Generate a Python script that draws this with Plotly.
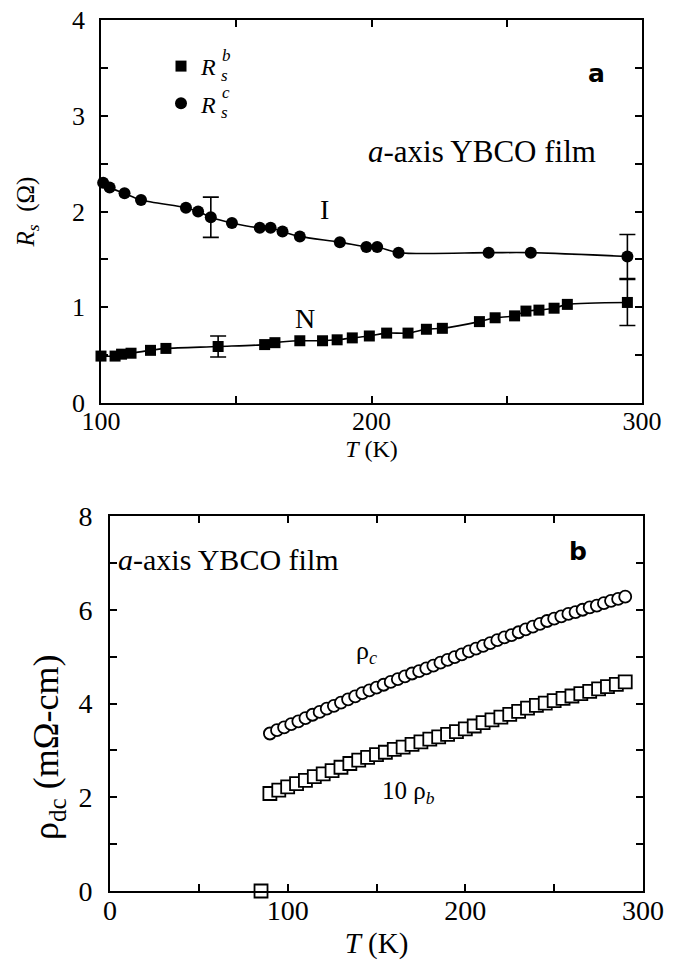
import plotly.graph_objects as go

# ---------------- Panel a data ----------------
T_c = [100.8, 103.2, 108.7, 114.8, 131.4, 135.9, 140.6, 148.4, 158.7, 162.7,
       167.1, 173.5, 188.3, 198.1, 202.1, 210.0, 243.3, 258.9, 294.6]
Rs_c = [2.30, 2.25, 2.19, 2.12, 2.04, 2.00, 1.94, 1.88, 1.83, 1.83,
        1.79, 1.74, 1.68, 1.63, 1.63, 1.57, 1.57, 1.57, 1.53]
T_b = [100.0, 105.2, 107.6, 111.1, 118.3, 124.0, 143.3, 160.5, 164.3, 173.5,
       181.9, 187.3, 192.9, 199.2, 205.6, 213.5, 220.3, 226.2, 239.9, 245.7,
       252.9, 257.1, 261.9, 267.5, 272.4, 294.6]
Rs_b = [0.49, 0.49, 0.51, 0.52, 0.55, 0.57, 0.59, 0.61, 0.63, 0.65,
        0.65, 0.66, 0.68, 0.70, 0.73, 0.73, 0.77, 0.78, 0.85, 0.89,
        0.91, 0.96, 0.97, 0.99, 1.03, 1.05]
# error bars (index into the series, +/- value)
err_c_idx = [6, 18]
err_c_val = [0.21, 0.23]
err_b_idx = [6, 25]
err_b_val = [0.11, 0.24]

# ---------------- Panel b data ----------------
T_rc = [90, 94, 98, 102, 106, 110, 114, 118, 122, 126, 130, 134, 138, 142, 146,
        150, 154, 158, 162, 166, 170, 174, 178, 182, 186, 190, 194, 198, 202, 206,
        210, 214, 218, 222, 226, 230, 234, 238, 242, 246, 250, 254, 258, 262, 266,
        270, 274, 278, 282, 286, 290]
rho_c = [3.36, 3.43, 3.49, 3.56, 3.62, 3.69, 3.76, 3.82, 3.89, 3.95, 4.02, 4.09,
         4.15, 4.22, 4.28, 4.34, 4.40, 4.46, 4.52, 4.58, 4.64, 4.69, 4.75, 4.81,
         4.87, 4.93, 4.99, 5.05, 5.11, 5.17, 5.23, 5.29, 5.35, 5.41, 5.46, 5.52,
         5.58, 5.64, 5.70, 5.76, 5.81, 5.86, 5.91, 5.95, 6.00, 6.05, 6.09, 6.14,
         6.19, 6.23, 6.28]
T_rb = [85, 90, 95, 100, 105, 110, 115, 120, 125, 130, 135, 140, 145, 150, 155,
        160, 165, 170, 175, 180, 185, 190, 195, 200, 205, 210, 215, 220, 225, 230,
        235, 240, 245, 250, 255, 260, 265, 270, 275, 280, 285, 290]
rho_b10 = [0.0, 2.08, 2.15, 2.22, 2.29, 2.36, 2.44, 2.50, 2.57, 2.64, 2.72, 2.79,
           2.85, 2.91, 2.96, 3.02, 3.07, 3.13, 3.18, 3.24, 3.29, 3.34, 3.40, 3.46,
           3.52, 3.59, 3.65, 3.71, 3.77, 3.83, 3.90, 3.96, 4.01, 4.06, 4.11, 4.16,
           4.21, 4.26, 4.31, 4.36, 4.41, 4.46]

W, H = 673, 965
SERIF = "Liberation Serif"

def px_x(p):
    return p / W

def px_y(p):
    return 1 - p / H

def sf(size):
    return dict(family=SERIF, size=size, color="black")

fig = go.Figure()

# smooth lines (panel a)
for xs, ys in ((T_c, Rs_c), (T_b, Rs_b)):
    fig.add_trace(go.Scatter(x=xs, y=ys, mode="lines",
                             line=dict(color="black", width=1.6, shape="spline", smoothing=0.8),
                             showlegend=False, xaxis="x", yaxis="y", hoverinfo="skip"))
# error bars
fig.add_trace(go.Scatter(x=[T_c[i] for i in err_c_idx], y=[Rs_c[i] for i in err_c_idx], mode="markers",
                         marker=dict(size=1, color="black"),
                         error_y=dict(type="data", array=err_c_val, color="black", thickness=1.6, width=8),
                         showlegend=False, xaxis="x", yaxis="y", cliponaxis=False))
fig.add_trace(go.Scatter(x=[T_b[i] for i in err_b_idx], y=[Rs_b[i] for i in err_b_idx], mode="markers",
                         marker=dict(size=1, color="black"),
                         error_y=dict(type="data", array=err_b_val, color="black", thickness=1.6, width=8),
                         showlegend=False, xaxis="x", yaxis="y", cliponaxis=False))
# markers (panel a)
fig.add_trace(go.Scatter(x=T_b, y=Rs_b, mode="markers", name="<i>R</i>",
                         marker=dict(symbol="square", size=11, color="black"),
                         legendgroup="b", xaxis="x", yaxis="y", cliponaxis=False))
fig.add_trace(go.Scatter(x=T_c, y=Rs_c, mode="markers", name="<i>R</i>",
                         marker=dict(symbol="circle", size=12, color="black"),
                         legendgroup="c", xaxis="x", yaxis="y", cliponaxis=False))

# panel b
fig.add_trace(go.Scatter(x=T_rc, y=rho_c, mode="markers",
                         marker=dict(symbol="circle", size=12, color="white", line=dict(color="black", width=1.8)),
                         showlegend=False, xaxis="x2", yaxis="y2", cliponaxis=False))
fig.add_trace(go.Scatter(x=T_rb, y=rho_b10, mode="markers",
                         marker=dict(symbol="square", size=13, color="white", line=dict(color="black", width=1.8)),
                         showlegend=False, xaxis="x2", yaxis="y2", cliponaxis=False))

axis_common = dict(showline=True, linecolor="black", linewidth=1.8, mirror="ticks",
                   ticks="inside", ticklen=7, tickwidth=1.5, tickcolor="black",
                   showgrid=False, zeroline=False, automargin=False,
                   ticklabeloverflow="allow",
                   minor=dict(ticks="inside", ticklen=7, tickwidth=1.5, tickcolor="black", showgrid=False))

fig.update_layout(
    width=W, height=H,
    margin=dict(l=0, r=0, t=0, b=0, autoexpand=False),
    paper_bgcolor="white", plot_bgcolor="white",
    font=sf(20),
    showlegend=True,
    legend=dict(x=px_x(153), y=px_y(36), xanchor="left", yanchor="top",
                font=sf(24), tracegroupgap=3,
                bgcolor="rgba(0,0,0,0)", itemsizing="trace"),
    xaxis=dict(domain=[px_x(93), px_x(634)], range=[100, 300], dtick=100, anchor="y",
               tickfont=sf(26), minor_dtick=50, ticklabelstandoff=-6,
               title=dict(text="<i>T</i> (K)", font=sf(24), standoff=0), **axis_common),
    yaxis=dict(domain=[px_y(395), px_y(12)], range=[0, 4], dtick=1, anchor="x",
               tickfont=sf(26), minor_dtick=0.5, ticklabelstandoff=9,
               title=dict(text="<i>R</i><sub><i>s</i></sub>  (Ω)", font=sf(25), standoff=30), **axis_common),
    xaxis2=dict(domain=[px_x(102), px_x(635)], range=[0, 300], dtick=100, anchor="y2",
                tickfont=sf(28), minor_dtick=50, ticklabelstandoff=-7,
                title=dict(text="<i>T</i> (K)", font=sf(29), standoff=8), **axis_common),
    yaxis2=dict(domain=[px_y(883), px_y(508)], range=[0, 8], dtick=2, anchor="x2",
                tickfont=sf(28), minor_dtick=1, ticklabelstandoff=10, **axis_common),
)

ann = [
    dict(x=px_x(588), y=px_y(65), text="<b>a</b>", font=dict(family="DejaVu Sans", size=25)),
    dict(x=px_x(474), y=px_y(143), text="<i>a</i>-axis YBCO film", font=sf(31)),
    dict(x=px_x(316), y=px_y(202), text="I", font=sf(28)),
    dict(x=px_x(297), y=px_y(310), text="N", font=sf(28)),
    dict(x=px_x(220), y=px_y(551), text="<i>a</i>-axis YBCO film", font=sf(30)),
    dict(x=px_x(570), y=px_y(543), text="<b>b</b>", font=dict(family="DejaVu Sans", size=25)),
    dict(x=px_x(358), y=px_y(644), text="ρ<sub><i>c</i></sub>", font=sf(26)),
    dict(x=px_x(400), y=px_y(784), text="10 ρ<sub><i>b</i></sub>", font=sf(25)),
    # y-axis title of panel b
    dict(x=px_x(40), y=px_y(740), text="ρ<sub>dc</sub> (mΩ-cm)", font=sf(36), textangle=-90),
    # legend sub/superscripts
    dict(x=px_x(218), y=px_y(47), text="<i>b</i>", font=sf(17)),
    dict(x=px_x(216), y=px_y(68), text="<i>s</i>", font=sf(17)),
    dict(x=px_x(218), y=px_y(84), text="<i>c</i>", font=sf(17)),
    dict(x=px_x(216), y=px_y(105), text="<i>s</i>", font=sf(17)),
]
for a in ann:
    a["showarrow"] = False
    a["xref"] = "paper"
    a["yref"] = "paper"
    a["xanchor"] = "center"
    a["yanchor"] = "middle"
    a["font"]["color"] = "black"
fig.update_layout(annotations=ann)

fig.write_html("out.html")
